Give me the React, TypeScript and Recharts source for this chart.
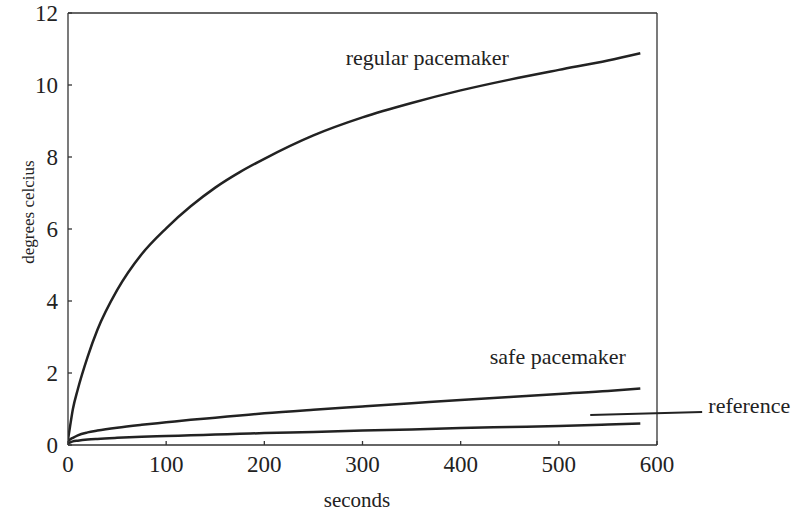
import React from "react";
import {
  LineChart,
  Line,
  XAxis,
  YAxis,
  ReferenceDot,
  ReferenceLine,
  Label,
} from "recharts";

// Sample times (s) shared by the three curves.
const seconds = [0, 2, 5, 10, 20, 30, 50, 75, 100, 125, 150, 175, 200, 250, 300, 350, 400, 450, 500, 550, 583];

// Temperature rise (degrees C).
const regular = [0.15, 0.5, 1.0, 1.55, 2.45, 3.2, 4.3, 5.3, 6.02, 6.63, 7.15, 7.58, 7.95, 8.6, 9.1, 9.5, 9.85, 10.15, 10.42, 10.68, 10.88];
const safe = [0.1, 0.15, 0.2, 0.27, 0.35, 0.4, 0.48, 0.56, 0.63, 0.7, 0.76, 0.82, 0.88, 0.98, 1.07, 1.16, 1.25, 1.33, 1.42, 1.5, 1.57];
const reference = [0.05, 0.07, 0.1, 0.12, 0.15, 0.17, 0.2, 0.23, 0.25, 0.27, 0.29, 0.31, 0.33, 0.36, 0.4, 0.43, 0.47, 0.5, 0.53, 0.57, 0.6];

const xTicks = [0, 100, 200, 300, 400, 500, 600];
const yTicks = [0, 2, 4, 6, 8, 10, 12];

const data = seconds.map((s, i) => ({
  seconds: s,
  regular: regular[i],
  safe: safe[i],
  reference: reference[i],
}));

const FONT = "'Liberation Serif', 'DejaVu Serif', serif";
const INK = "#222";
const FRAME = "#333";

const tickStyle = { fontFamily: FONT, fontSize: 23, fill: INK };
const noteStyle = { position: "center" as const, fontFamily: FONT, fontSize: 22, fill: INK };

export default function App() {
  return (
    <div style={{ position: "absolute", left: 0, top: 0, background: "#fff" }}>
      <LineChart
        width={796}
        height={517}
        data={data}
        margin={{ top: 13, right: 139, bottom: 0, left: 0 }}
      >
        <XAxis
          dataKey="seconds"
          type="number"
          domain={[0, 600]}
          ticks={xTicks}
          allowDataOverflow
          height={72}
          tickSize={-4}
          tickMargin={15}
          tick={tickStyle}
          stroke={FRAME}
          strokeWidth={1.3}
        >
          <Label
            content={() => (
              <text
                x={357}
                y={507}
                textAnchor="middle"
                fontFamily={FONT}
                fontSize={21}
                fill={INK}
              >
                seconds
              </text>
            )}
          />
        </XAxis>
        {/* top and right axes close the frame; the regular curve is bound to them */}
        <XAxis
          xAxisId="top"
          dataKey="seconds"
          orientation="top"
          type="number"
          domain={[0, 600]}
          ticks={xTicks}
          allowDataOverflow
          height={0}
          tickSize={-4}
          tickFormatter={() => ""}
          stroke={FRAME}
          strokeWidth={1.3}
        />
        <YAxis
          type="number"
          domain={[0, 12]}
          ticks={yTicks}
          allowDataOverflow
          width={68}
          tickSize={-4}
          tickMargin={14}
          tick={tickStyle}
          stroke={FRAME}
          strokeWidth={1.3}
        >
          <Label
            content={() => (
              <text
                x={28}
                y={212}
                transform="rotate(-90 28 212)"
                textAnchor="middle"
                dominantBaseline="central"
                fontFamily={FONT}
                fontSize={17}
                fill={INK}
              >
                degrees celcius
              </text>
            )}
          />
        </YAxis>
        <YAxis
          yAxisId="right"
          orientation="right"
          type="number"
          domain={[0, 12]}
          ticks={yTicks}
          allowDataOverflow
          width={0}
          tickSize={-4}
          tickFormatter={() => ""}
          stroke={FRAME}
          strokeWidth={1.3}
        />

        <Line
          xAxisId="top"
          yAxisId="right"
          type="monotone"
          dataKey="regular"
          stroke={INK}
          strokeWidth={2.5}
          dot={false}
          isAnimationActive={false}
        />
        <Line
          type="monotone"
          dataKey="safe"
          stroke={INK}
          strokeWidth={2.5}
          dot={false}
          isAnimationActive={false}
        />
        <Line
          type="monotone"
          dataKey="reference"
          stroke={INK}
          strokeWidth={2.5}
          dot={false}
          isAnimationActive={false}
        />

        <ReferenceLine x={600} stroke={FRAME} strokeWidth={1.3} ifOverflow="visible" />
        <ReferenceLine y={12} stroke={FRAME} strokeWidth={1.3} ifOverflow="visible" />

        <ReferenceLine
          segment={[
            { x: 532, y: 0.83 },
            { x: 646, y: 0.92 },
          ]}
          stroke={INK}
          strokeWidth={2}
          ifOverflow="visible"
        />
        <ReferenceDot x={366} y={10.78} r={0} ifOverflow="visible" label={{ value: "regular pacemaker", ...noteStyle }} />
        <ReferenceDot x={499} y={2.47} r={0} ifOverflow="visible" label={{ value: "safe pacemaker", ...noteStyle }} />
        <ReferenceDot x={694} y={1.11} r={0} ifOverflow="visible" label={{ value: "reference", ...noteStyle }} />
      </LineChart>
    </div>
  );
}
